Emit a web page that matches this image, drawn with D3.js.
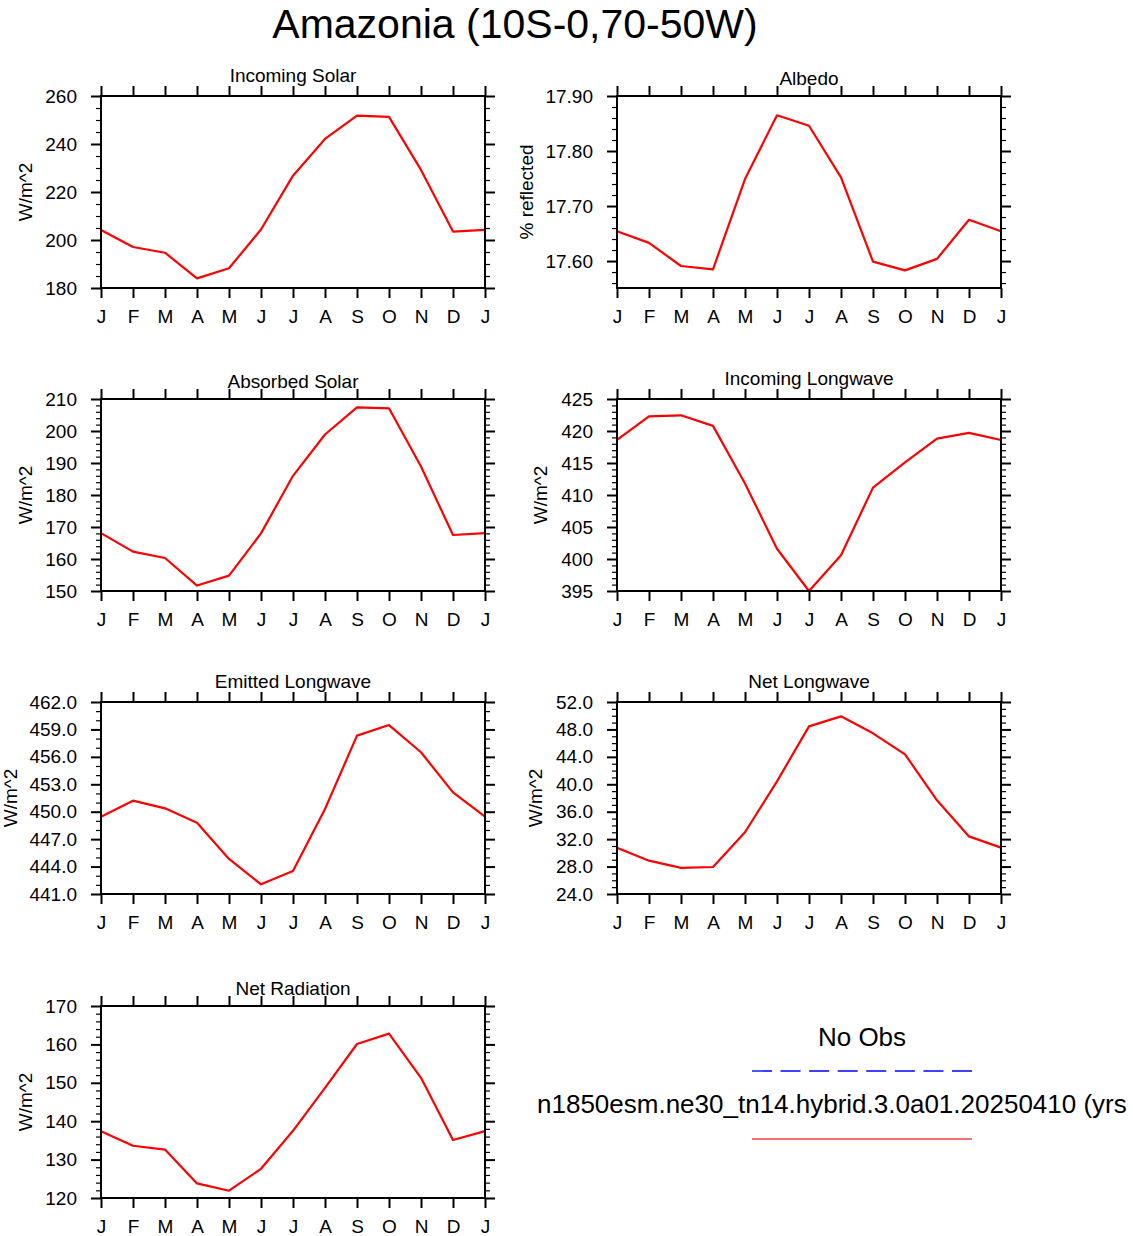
<!DOCTYPE html>
<html><head><meta charset="utf-8">
<script src="https://cdn.jsdelivr.net/npm/d3@7/dist/d3.min.js"></script>
<style>
body{margin:0;background:#fff}
svg{display:block}
text{font-family:"Liberation Sans",Arial,Helvetica,sans-serif;fill:#000}
</style>
</head><body>
<svg id="chart" width="1133" height="1236"></svg>
<script>
// ---------- data ----------
const months = ["J","F","M","A","M","J","J","A","S","O","N","D","J"];

const incomingSolar    = [204.2,197.1,194.7,184.0,188.2,204.4,226.8,242.1,251.8,251.3,229.2,203.5,204.2];
const albedo           = [17.654,17.633,17.591,17.585,17.749,17.865,17.846,17.752,17.599,17.583,17.604,17.675,17.654];
const absorbedSolar    = [168.1,162.3,160.3,151.7,154.8,168.0,186.0,198.9,207.4,207.1,188.9,167.5,168.1];
const incomingLongwave = [418.6,422.3,422.45,420.8,411.8,401.6,395.0,400.6,411.15,415.1,418.8,419.7,418.6];
const emittedLongwave  = [449.46,451.21,450.37,448.8,444.83,442.06,443.52,450.3,458.32,459.48,456.5,452.12,449.46];
const netLongwave      = [30.76,28.86,27.8,27.94,33.0,40.43,48.45,49.91,47.43,44.37,37.66,32.4,30.76];
const netRadiation     = [137.4,133.6,132.6,123.8,121.9,127.6,137.5,148.7,160.1,162.8,151.3,135.1,137.4];

const panelTitles = ["Incoming Solar","Albedo","Absorbed Solar","Incoming Longwave","Emitted Longwave","Net Longwave","Net Radiation"];
const yLabels     = ["W/m^2","% reflected","W/m^2","W/m^2","W/m^2","W/m^2","W/m^2"];

const incomingSolarTicks    = [180,200,220,240,260];
const albedoTicks           = [17.60,17.70,17.80,17.90];
const absorbedSolarTicks    = [150,160,170,180,190,200,210];
const incomingLongwaveTicks = [395,400,405,410,415,420,425];
const emittedLongwaveTicks  = [441,444,447,450,453,456,459,462];
const netLongwaveTicks      = [24,28,32,36,40,44,48,52];
const netRadiationTicks     = [120,130,140,150,160,170];

const legendLabels = ["No Obs","n1850esm.ne30_tn14.hybrid.3.0a01.20250410 (yrs"];
const mainTitle = "Amazonia (10S-0,70-50W)";

// ---------- layout / styles ----------
const colX = [101, 617];
const rowY = [96, 399, 702, 1006];
const plotW = 384, plotH = 192;

const panels = [
  {series: incomingSolar,    ticks: incomingSolarTicks,    domain:[180,260],       minor:5,    fmt:d3.format("d"),   col:0,row:0, titleOff:14, ylabX:25},
  {series: albedo,           ticks: albedoTicks,           domain:[17.551,17.90],  minor:0.02, fmt:d3.format(".2f"), col:1,row:0, titleOff:11, ylabX:526},
  {series: absorbedSolar,    ticks: absorbedSolarTicks,    domain:[150,210],       minor:2,    fmt:d3.format("d"),   col:0,row:1, titleOff:11, ylabX:25},
  {series: incomingLongwave, ticks: incomingLongwaveTicks, domain:[395,425],       minor:1,    fmt:d3.format("d"),   col:1,row:1, titleOff:14, ylabX:540},
  {series: emittedLongwave,  ticks: emittedLongwaveTicks,  domain:[441,462],       minor:1,    fmt:d3.format(".1f"), col:0,row:2, titleOff:14, ylabX:10},
  {series: netLongwave,      ticks: netLongwaveTicks,      domain:[24,52],         minor:1,    fmt:d3.format(".1f"), col:1,row:2, titleOff:14, ylabX:535},
  {series: netRadiation,     ticks: netRadiationTicks,     domain:[120,170],       minor:2,    fmt:d3.format("d"),   col:0,row:3, titleOff:11, ylabX:25}
];

const svg = d3.select("#chart");
const FS = 19;

svg.append("text").attr("x", 515).attr("y", 38).attr("text-anchor","middle")
  .style("font-size","41px").text(mainTitle);

panels.forEach((p, i) => {
  const x0 = colX[p.col], y0 = rowY[p.row];
  const g = svg.append("g").attr("transform", `translate(${x0},${y0})`);
  const x = d3.scaleLinear().domain([0, 12]).range([0, plotW]);
  const y = d3.scaleLinear().domain(p.domain).range([plotH, 0]);

  const nMin = Math.ceil(p.domain[0] / p.minor - 1e-6), nMax = Math.floor(p.domain[1] / p.minor + 1e-6);
  const minorVals = d3.range(nMin, nMax + 1).map(k => k * p.minor)
    .filter(v => !p.ticks.some(t => Math.abs(t - v) < p.minor * 0.01));

  const mk = (axisFn, scale, vals, len, fmt) => axisFn(scale).tickValues(vals).tickSizeInner(len).tickSizeOuter(0).tickFormat(fmt || "");

  g.append("g").attr("class","minor").call(mk(d3.axisLeft, y, minorVals, 5));
  g.append("g").attr("class","minor").attr("transform",`translate(${plotW},0)`).call(mk(d3.axisRight, y, minorVals, 5));
  g.append("g").attr("class","major").call(mk(d3.axisLeft, y, p.ticks, 10, p.fmt).tickPadding(14));
  g.append("g").attr("class","major").attr("transform",`translate(${plotW},0)`).call(mk(d3.axisRight, y, p.ticks, 10));
  const xt = d3.range(0, 13);
  g.append("g").attr("class","major").attr("transform",`translate(0,${plotH})`)
    .call(d3.axisBottom(x).tickValues(xt).tickSizeInner(10).tickSizeOuter(0).tickPadding(12).tickFormat(d => months[d]));
  g.append("g").attr("class","major").call(d3.axisTop(x).tickValues(xt).tickSizeInner(10).tickSizeOuter(0).tickFormat(""));

  g.selectAll(".domain").remove();
  g.selectAll(".major line").attr("stroke","#000").attr("stroke-width",2);
  g.selectAll(".minor line").attr("stroke","#000").attr("stroke-width",1.2);
  g.selectAll(".tick text").style("font-size", FS + "px").style("font-family",'"Liberation Sans",Arial,sans-serif').attr("fill","#000");

  const line = d3.line().x((d, k) => x(k)).y(d => y(d));
  g.append("path").datum(p.series).attr("d", line)
    .attr("fill","none").attr("stroke","#ff0000").attr("stroke-width",2.2).attr("stroke-linejoin","round");

  g.append("rect").attr("width", plotW).attr("height", plotH)
    .attr("fill","none").attr("stroke","#000").attr("stroke-width",2);

  svg.append("text").attr("x", x0 + plotW / 2).attr("y", y0 - p.titleOff)
    .attr("text-anchor","middle").style("font-size", FS + "px").text(panelTitles[i]);

  svg.append("text").attr("transform", `translate(${p.ylabX},${y0 + plotH / 2}) rotate(-90)`)
    .attr("text-anchor","middle").attr("dy","0.35em").style("font-size", FS + "px").text(yLabels[i]);
});

// ---------- legend ----------
svg.append("text").attr("x", 862).attr("y", 1046).attr("text-anchor","middle")
  .style("font-size","26px").text(legendLabels[0]);
svg.append("line").attr("x1", 752).attr("x2", 972).attr("y1", 1071).attr("y2", 1071)
  .attr("stroke","#3f3fff").attr("stroke-width",1.8).attr("stroke-dasharray","20,8.57");
svg.append("text").attr("x", 537).attr("y", 1113).attr("text-anchor","start")
  .style("font-size","26px").text(legendLabels[1]);
svg.append("line").attr("x1", 752).attr("x2", 972).attr("y1", 1139).attr("y2", 1139)
  .attr("stroke","#ff3f3f").attr("stroke-width",1.6);
</script>
</body></html>
